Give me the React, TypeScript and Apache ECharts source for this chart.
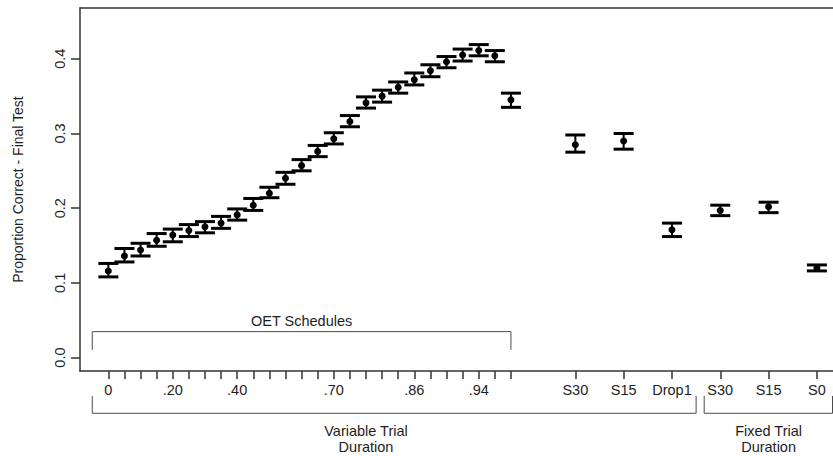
import React, { useEffect, useRef } from "react";
import * as echarts from "echarts";

// x positions of each condition (category slots on the plot)
const xPos = [
  0, 1, 2, 3, 4, 5, 6, 7, 8, 9, 10, 11, 12, 13, 14, 15, 16, 17, 18, 19, 20, 21, 22, 23, 24, 25,
  29, 32, 35, 38, 41, 44,
];
const means = [
  0.116, 0.136, 0.144, 0.157, 0.164, 0.17, 0.175, 0.18, 0.191, 0.204, 0.22, 0.24, 0.257, 0.276,
  0.293, 0.316, 0.341, 0.35, 0.362, 0.372, 0.384, 0.396, 0.405, 0.411, 0.404, 0.345,
  0.285, 0.29, 0.171, 0.197, 0.202, 0.12,
];
const lower = [
  0.108, 0.128, 0.136, 0.149, 0.155, 0.162, 0.167, 0.173, 0.184, 0.197, 0.214, 0.232, 0.25, 0.269,
  0.286, 0.309, 0.334, 0.342, 0.354, 0.365, 0.376, 0.388, 0.397, 0.404, 0.396, 0.335,
  0.275, 0.279, 0.162, 0.19, 0.194, 0.116,
];
const upper = [
  0.126, 0.146, 0.153, 0.166, 0.172, 0.178, 0.182, 0.189, 0.199, 0.213, 0.228, 0.248, 0.265, 0.284,
  0.301, 0.324, 0.349, 0.358, 0.369, 0.381, 0.392, 0.403, 0.413, 0.419, 0.411, 0.354,
  0.298, 0.3, 0.18, 0.204, 0.208, 0.124,
];

const xLabelPos = [0, 4, 8, 14, 19, 23, 29, 32, 35, 38, 41, 44];
const xLabelText = ["0", ".20", ".40", ".70", ".86", ".94", "S30", "S15", "Drop1", "S30", "S15", "S0"];
const yTicks = [0, 0.1, 0.2, 0.3, 0.4];

// brackets: [x0, x1, yLine, yEnd]
const oetBracket = [-1, 25, 0.0347, 0.0102];
const variableBracket = [-1, 36.5, -0.0746, -0.0514];
const fixedBracket = [37, 44.97, -0.0746, -0.0514];

const FONT = "'Liberation Sans', Arial, sans-serif";
const FS = 14.5;
const TXT = "#1e1e1e";
const AX = "#333";

function bracketData(b: number[]) {
  return [
    [b[0], b[3]],
    [b[0], b[2]],
    [b[1], b[2]],
    [b[1], b[3]],
  ];
}

export default function App() {
  const ref = useRef<HTMLDivElement>(null);
  useEffect(() => {
    if (!ref.current) return;
    const chart = echarts.init(ref.current, null, { renderer: "svg" });
    const errData = xPos.map((x, i) => [x, means[i], lower[i], upper[i]]);
    const bracketSeries = [oetBracket, variableBracket, fixedBracket].map((b) => ({
      type: "line",
      data: bracketData(b),
      clip: false,
      symbol: "none",
      silent: true,
      lineStyle: { color: "#4a4a4a", width: 1 },
    }));
    chart.setOption({
      animation: false,
      grid: {
        left: 80,
        top: 8,
        right: 0,
        height: 363,
      },
      xAxis: [
        {
          type: "value",
          min: -1.76,
          max: 45.0,
          splitLine: { show: false },
          axisLine: { show: true, onZero: false, lineStyle: { color: AX, width: 1.5 } },
          axisTick: {
            show: true,
            length: 8,
            lineStyle: { color: AX, width: 1.5 },
            customValues: xPos,
          },
          axisLabel: {
            customValues: xLabelPos,
            margin: 11,
            fontSize: FS,
            fontFamily: FONT,
            color: TXT,
            formatter: (v: number) => {
              const idx = xLabelPos.findIndex((p) => Math.abs(p - v) < 1e-6);
              return idx >= 0 ? xLabelText[idx] : "";
            },
          },
        },
        {
          type: "value",
          position: "top",
          min: -1.76,
          max: 45.0,
          splitLine: { show: false },
          axisLine: { show: true, onZero: false, lineStyle: { color: AX, width: 1.5 } },
          axisTick: { show: false },
          axisLabel: { show: false },
        },
      ],
      yAxis: {
        type: "value",
        min: -0.018,
        max: 0.468,
        splitLine: { show: false },
        axisLine: { show: true, onZero: false, lineStyle: { color: AX, width: 1.5 } },
        axisTick: {
          show: true,
          length: 9,
          lineStyle: { color: AX, width: 1.5 },
          customValues: yTicks,
        },
        axisLabel: {
          customValues: yTicks,
          rotate: 90,
          margin: 13,
          fontSize: FS,
          fontFamily: FONT,
          color: TXT,
          formatter: (v: number) => v.toFixed(1),
        },
        name: "Proportion Correct - Final Test",
        nameLocation: "middle",
        nameRotate: 90,
        nameGap: 55,
        nameTextStyle: { fontSize: 14, fontFamily: FONT, color: TXT },
      },
      series: [
        ...bracketSeries,
        {
          type: "custom",
          data: errData,
          clip: false,
          renderItem: (params: any, api: any) => {
            const x = api.value(0);
            const pm = api.coord([x, api.value(1)]);
            const pl = api.coord([x, api.value(2)]);
            const pu = api.coord([x, api.value(3)]);
            const hw = 10;
            return {
              type: "group",
              children: [
                {
                  type: "line",
                  shape: { x1: pm[0], y1: pl[1], x2: pm[0], y2: pu[1] },
                  style: { stroke: "#000", lineWidth: 2 },
                },
                {
                  type: "line",
                  shape: { x1: pm[0] - hw, y1: pl[1], x2: pm[0] + hw, y2: pl[1] },
                  style: { stroke: "#000", lineWidth: 3 },
                },
                {
                  type: "line",
                  shape: { x1: pm[0] - hw, y1: pu[1], x2: pm[0] + hw, y2: pu[1] },
                  style: { stroke: "#000", lineWidth: 3 },
                },
                {
                  type: "circle",
                  shape: { cx: pm[0], cy: pm[1], r: 3.5 },
                  style: { fill: "#000" },
                },
              ],
            };
          },
        },
      ],
    });

    const toPx = (x: number, y: number) =>
      chart.convertToPixel({ xAxisIndex: 0, yAxisIndex: 0 }, [x, y]) as number[];
    const p1 = toPx(12, 0.0494);
    const p2 = toPx(16, -0.0746);
    const p3 = toPx(41, -0.0746);
    const txt = (x: number, y: number, text: string) => ({
      type: "text",
      x,
      y,
      style: {
        text,
        fill: TXT,
        font: `${FS}px ${FONT}`,
        textAlign: "center",
        textVerticalAlign: "middle",
        lineHeight: 16,
      },
    });
    chart.setOption({
      graphic: [
        txt(p1[0], p1[1], "OET Schedules"),
        txt(p2[0], p2[1] + 26, "Variable Trial\nDuration"),
        txt(p3[0], p3[1] + 26, "Fixed Trial\nDuration"),
      ],
    });

    return () => chart.dispose();
  }, []);
  return <div ref={ref} style={{ width: 833, height: 456, position: "absolute", left: 0, top: 0 }} />;
}
